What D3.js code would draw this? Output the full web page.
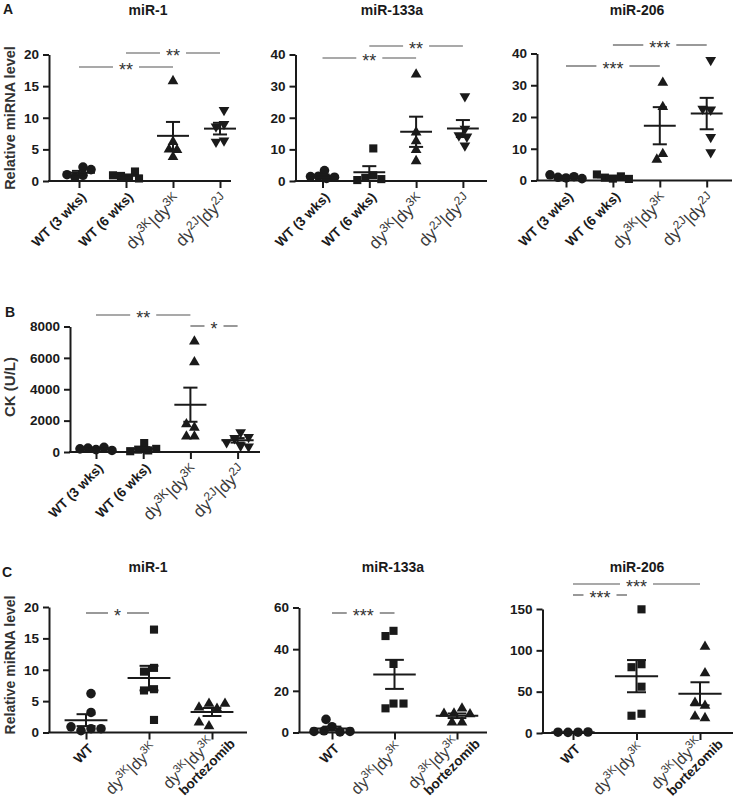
<!DOCTYPE html>
<html><head><meta charset="utf-8">
<script src="https://cdn.jsdelivr.net/npm/d3@7"></script>
<style>body{margin:0;background:#fff}svg{display:block}</style>
</head><body><svg id="c" width="734" height="801"></svg>
<script>
// ---------- DATA ----------
const catsA = ["WT (3 wks)", "WT (6 wks)", "dy^3K|dy^3K", "dy^2J|dy^2J"];
const catsC = ["WT", "dy^3K|dy^3K", "dy^3K|dy^3K~bortezomib"];
const shapesA = ["circle", "square", "up", "down"];
const shapesC = ["circle", "square", "up"];

const A_miR1   = [[2.2,0.9,0.6,1.8,1.0],[0.5,0.8,1.5,0.4,0.9],[15.8,6.2,5.0,4.9,3.8],[11.2,9.0,8.6,6.4,6.2]];
const A_miR133a= [[3.3,1.5,0.8,1.2,1.4],[10.3,1.8,1.0,0.6,0.3],[33.7,15.4,12.6,9.8,6.3],[26.8,16.5,14.4,14.0,11.2]];
const A_miR206 = [[0.8,1.0,1.2,1.8,0.6],[0.6,0.9,1.3,1.9,0.5],[30.8,23.2,8.4,6.6],[37.9,22.3,22.6,13.7,8.9]];
const B_CK     = [[150,250,300,200,100],[570,150,100,200,50],[7050,5730,1560,1770,990,990],[1260,880,950,620,400,350]];
const C_miR1   = [[6.2,3.2,0.6,0.3,0.6,0.9],[16.4,10.3,9.7,6.9,6.7,2.0],[4.6,4.0,3.8,4.6,1.0,1.6]];
const C_miR133a= [[2.8,6.3,0.8,0.3,0.5,0.5],[48.8,46.3,32.9,13.9,11.6,13.9],[11.6,9.2,8.8,9.0,4.8,4.8]];
const C_miR206 = [[1.0,0.8,1.2,1.0],[149.6,83.2,79.6,56,23.3,20.9],[104.5,72.4,33,36.6,18.1,20.1]];

const ticksA1 = [0,5,10,15,20], ticksA2 = [0,10,20,30,40], ticksB = [0,2000,4000,6000,8000];
const ticksC1 = [0,5,10,15,20], ticksC2 = [0,20,40,60], ticksC3 = [0,50,100,150];

// significance: [fromIndex, toIndex, label]
const sigA1 = [[1,3,"**"],[0,2,"**"]];
const sigA2 = [[1,3,"**"],[0,2,"**"]];
const sigA3 = [[1,3,"***"],[0,2,"***"]];
const sigB  = [[0,2,"**"],[2,3,"*"]];
const sigC1 = [[0,1,"*"]];
const sigC2 = [[0,1,"***"]];
const sigC3 = [[0,2,"***"],[0,0.85,"***"]];

// ---------- DRAW ----------
const svg = d3.select("#c");
const FONT = "'Liberation Sans', Arial, Helvetica, sans-serif";
const INK = "#1a1a1a";

function labelTspans(t, str, big, small){
  const parts = str.split(/(dy\^\w+)/).filter(s=>s.length);
  let raised = false;
  parts.forEach(p=>{
    const m = p.match(/^dy\^(\w+)$/);
    if(m){
      t.append("tspan").attr("font-weight","normal").attr("font-size",big).attr("dy", raised? "6":"0").text("dy");
      t.append("tspan").attr("font-weight","normal").attr("font-size",small).attr("dy","-6").text(m[1]);
      raised = true;
    } else {
      t.append("tspan").attr("font-weight","normal").attr("font-size",big).attr("dy", raised? "6":"0").text(p);
      raised = false;
    }
  });
}

function panel(o){
  const g = svg.append("g");
  const n = o.cats.length;
  const x = d3.scalePoint().domain(d3.range(n)).range([o.firstX, o.firstX + o.step*(n-1)]);
  const y = d3.scaleLinear().domain([0, o.max]).range([o.yb, o.yt]);

  // y axis
  const ya = g.append("g").attr("transform",`translate(${o.x0},0)`)
    .call(d3.axisLeft(y).tickValues(o.ticks).tickFormat(d3.format("d")).tickSize(6).tickSizeOuter(0).tickPadding(4));
  ya.select(".domain").attr("stroke",INK).attr("stroke-width",2);
  ya.selectAll(".tick line").attr("stroke",INK).attr("stroke-width",2);
  ya.selectAll(".tick text").attr("font-family",FONT).attr("font-weight","bold").attr("font-size","13.5px").attr("fill",INK);

  // x axis
  const xa = g.append("g").attr("transform",`translate(0,${o.yb})`)
    .call(d3.axisBottom(x).tickSize(7).tickSizeOuter(0).tickFormat(""));
  xa.select(".domain").remove();
  xa.selectAll(".tick line").attr("stroke",INK).attr("stroke-width",2);
  g.append("line").attr("x1",o.x0-1).attr("x2",o.x1).attr("y1",o.yb).attr("y2",o.yb).attr("stroke",INK).attr("stroke-width",2);

  // x labels
  const big = o.dyBig || "17px", small = o.dySmall || "12px";
  o.cats.forEach((c,i)=>{
    const lines = c.split("~");
    const isDy = c.indexOf("dy^")>=0;
    const ax = x(i) + (isDy ? 9 : 8), ay = o.yb + (isDy ? (o.dyDrop||20) : 17);
    const tg = g.append("g").attr("transform",`translate(${ax},${ay}) rotate(-45)`);
    lines.forEach((ln,k)=>{
      const off = lines.length>1 ? (k===0 ? -8 : 7) : 0;
      const t = tg.append("text").attr("text-anchor","end").attr("x", k===1? 14:0).attr("y",off)
        .attr("font-family",FONT).attr("font-weight","bold").attr("font-size","13.5px").attr("fill",INK);
      if(ln.indexOf("dy^")>=0) { t.attr("fill","#3a3a3a"); labelTspans(t, ln, big, small); }
      else t.text(ln);
    });
  });

  // points (deterministic side-by-side spread, centred per group)
  const sym = {
    circle: d3.symbol().type(d3.symbolCircle).size(72)(),
    square: d3.symbol().type(d3.symbolSquare).size(66)(),
    up: d3.symbol().type(d3.symbolTriangle).size(50)(),
  };
  const D = o.D || 8;
  o.data.forEach((vals,i)=>{
    const placed = [];
    const cx = x(i);
    vals.forEach(v=>{
      const py = y(v);
      let dx = 0;
      for(let k=0;k<50;k++){
        const cand = k===0?0:(k%2? -1:1)*Math.ceil(k/2)*2;
        if(placed.every(p=> (p[0]-cand)**2 + (p[1]-py)**2 >= D*D)){ dx=cand; break; }
      }
      placed.push([dx,py]);
    });
    const shift = -(d3.min(placed,p=>p[0]) + d3.max(placed,p=>p[0]))/2;
    placed.forEach(p=>{
      const s = o.shapes[i];
      const path = s==="down" ? sym.up : sym[s];
      g.append("path").attr("d",path)
        .attr("transform",`translate(${cx+p[0]+shift},${p[1]})${s==="down"?" rotate(180)":""}`)
        .attr("fill",INK);
    });
    // mean & SEM
    const m = d3.mean(vals), se = d3.deviation(vals)/Math.sqrt(vals.length);
    const hw = o.step*0.34, cw = o.step*0.15;
    const L = (x1,y1,x2,y2)=> g.append("line").attr("x1",x1).attr("y1",y1).attr("x2",x2).attr("y2",y2).attr("stroke",INK).attr("stroke-width",2);
    L(cx-hw,y(m),cx+hw,y(m));
    L(cx,y(m+se),cx,y(Math.max(0,m-se)));
    L(cx-cw,y(m+se),cx+cw,y(m+se));
    L(cx-cw,y(m-se),cx+cw,y(m-se));
  });

  // significance
  o.sigs.forEach((s,k)=>{
    const ly = o.sigY[k];
    const xa1 = o.firstX + o.step*s[0], xa2 = o.firstX + o.step*s[1];
    const mid = (xa1+xa2)/2;
    const t = g.append("text").attr("x",mid).attr("y",ly+9).attr("text-anchor","middle")
      .attr("font-family",FONT).attr("font-size","18px").attr("fill","#333").text(s[2]);
    const tw = t.node().getComputedTextLength();
    const gap = tw/2 + 6;
    g.append("line").attr("x1",xa1).attr("x2",mid-gap).attr("y1",ly).attr("y2",ly).attr("stroke","#555").attr("stroke-width",1.2);
    g.append("line").attr("x1",mid+gap).attr("x2",xa2).attr("y1",ly).attr("y2",ly).attr("stroke","#555").attr("stroke-width",1.2);
  });

  if(o.title) g.append("text").attr("x",o.titleX).attr("y",o.titleY).attr("text-anchor","middle")
    .attr("font-family",FONT).attr("font-weight","bold").attr("font-size","14px").attr("fill",INK).text(o.title);
  if(o.ylabel) g.append("text").attr("transform",`translate(${o.ylabelX},${o.ylabelY}) rotate(-90)`)
    .attr("text-anchor","middle").attr("font-family",FONT).attr("font-weight","bold").attr("font-size",o.ylabelSize||"14.5px")
    .attr("fill","#333").text(o.ylabel);
  if(o.letter) g.append("text").attr("x",o.letter[1]).attr("y",o.letter[2])
    .attr("font-family",FONT).attr("font-weight","bold").attr("font-size","14px").attr("fill",INK).text(o.letter[0]);
}

// Row A
panel({cats:catsA, data:A_miR1, shapes:shapesA, x0:49, x1:231, firstX:79, step:47, yb:181, yt:54.5, max:20, ticks:ticksA1,
  sigs:sigA1, sigY:[53,67], title:"miR-1", titleX:148, titleY:15, ylabel:"Relative miRNA level", ylabelX:15, ylabelY:118, letter:["A",3,14]});
panel({cats:catsA, data:A_miR133a, shapes:shapesA, x0:295.5, x1:487, firstX:322.5, step:46.8, yb:181, yt:54.5, max:40, ticks:ticksA2,
  sigs:sigA2, sigY:[46,58], title:"miR-133a", titleX:392, titleY:15});
panel({cats:catsA, data:A_miR206, shapes:shapesA, x0:537, x1:732, firstX:566, step:46.9, yb:180.5, yt:53.5, max:40, ticks:ticksA2,
  sigs:sigA3, sigY:[45,66], title:"miR-206", titleX:637, titleY:15});
// Row B
panel({cats:catsA, data:B_CK, shapes:shapesA, x0:70, x1:260, firstX:96, step:47.2, yb:452, yt:326.5, max:8000, ticks:ticksB,
  sigs:sigB, sigY:[315,326], ylabel:"CK (U/L)", ylabelX:15, ylabelY:387, ylabelSize:"15px", letter:["B",5,317]});
// Row C
const cOpts = {dyBig:"16px", dySmall:"11px", dyDrop:17, D:9};
panel(Object.assign({cats:catsC, data:C_miR1, shapes:shapesC, x0:49, x1:247, firstX:86, step:63, yb:732.5, yt:607, max:20, ticks:ticksC1,
  sigs:sigC1, sigY:[613], title:"miR-1", titleX:148, titleY:572, ylabel:"Relative miRNA level", ylabelX:15, ylabelY:665, ylabelSize:"14px", letter:["C",2,577]}, cOpts));
panel(Object.assign({cats:catsC, data:C_miR133a, shapes:shapesC, x0:299, x1:487, firstX:332, step:62.5, yb:732.5, yt:607.5, max:60, ticks:ticksC2,
  sigs:sigC2, sigY:[613], title:"miR-133a", titleX:393, titleY:572}, cOpts));
panel(Object.assign({cats:catsC, data:C_miR206, shapes:shapesC, x0:542.5, x1:733, firstX:573, step:63.5, yb:733, yt:609, max:150, ticks:ticksC3,
  sigs:sigC3, sigY:[584,595], title:"miR-206", titleX:637, titleY:572}, cOpts));
</script></body></html>
